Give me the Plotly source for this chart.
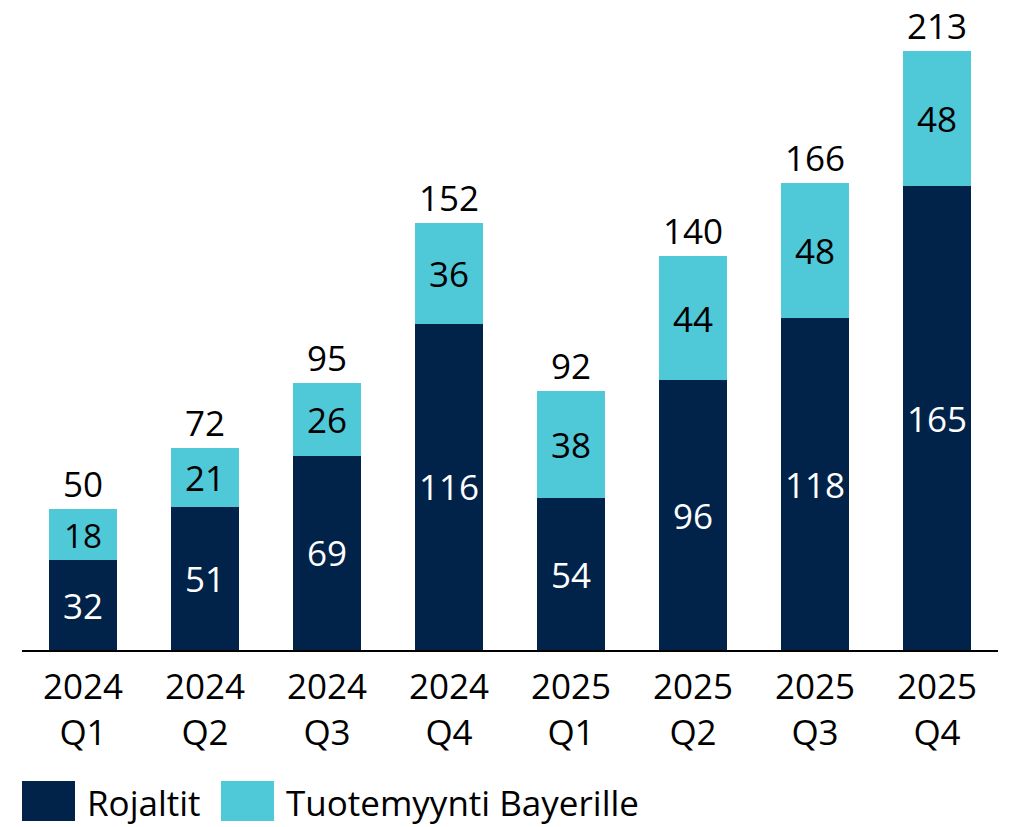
import plotly.graph_objects as go

categories = ["2024<br>Q1", "2024<br>Q2", "2024<br>Q3", "2024<br>Q4",
              "2025<br>Q1", "2025<br>Q2", "2025<br>Q3", "2025<br>Q4"]
rojaltit = [32, 51, 69, 116, 54, 96, 118, 165]
tuotemyynti = [18, 21, 26, 36, 38, 44, 48, 48]
totals = [50, 72, 95, 152, 92, 140, 166, 213]
series_names = ["Rojaltit", "Tuotemyynti Bayerille"]

DARK = "#012349"
LIGHT = "#4FC8D8"
FONT = "Open Sans"
FS = 35

fig = go.Figure()
fig.add_trace(go.Bar(
    x=categories, y=rojaltit, name=series_names[0], marker_color=DARK,
    marker_line_width=0, text=rojaltit, textposition="inside",
    insidetextanchor="middle", textangle=0,
    textfont=dict(color="white", size=FS, family=FONT),
))
fig.add_trace(go.Bar(
    x=categories, y=tuotemyynti, name=series_names[1], marker_color=LIGHT,
    marker_line_width=0, text=tuotemyynti, textposition="inside",
    insidetextanchor="middle", textangle=0,
    textfont=dict(color="black", size=FS, family=FONT),
))

for c, t in zip(categories, totals):
    fig.add_annotation(x=c, y=t, text=str(t), showarrow=False,
                       yanchor="bottom", yshift=1, borderpad=0,
                       font=dict(size=FS, color="black", family=FONT))

def px_x(px):
    return (px - 22) / 976

def px_y(py):
    return (650 - py) / 650

legend_spec = [(22, 75, DARK, series_names[0], 85), (221, 274, LIGHT, series_names[1], 284)]
for bx0, bx1, col, name, tx in legend_spec:
    fig.add_shape(type="rect", xref="paper", yref="paper",
                  x0=px_x(bx0), x1=px_x(bx1), y0=px_y(821), y1=px_y(781),
                  fillcolor=col, line_width=0)
    fig.add_annotation(xref="paper", yref="paper", x=px_x(tx), y=px_y(802),
                       text=name, showarrow=False, xanchor="left", yanchor="middle",
                       font=dict(size=FS, color="black", family=FONT))

fig.update_layout(
    barmode="stack",
    bargap=0.443,
    width=1010, height=827,
    margin=dict(l=22, r=12, t=0, b=177),
    plot_bgcolor="white", paper_bgcolor="white",
    showlegend=False,
    hovermode=False,
    font=dict(family=FONT, size=FS, color="black"),
    uniformtext=dict(mode=False),
)
fig.update_xaxes(showline=True, linecolor="black", linewidth=2, ticks="",
                 tickfont=dict(size=FS, family=FONT, color="black"),
                 ticklabelstandoff=5, showgrid=False)
fig.update_yaxes(visible=False, range=[0, 231.15], showgrid=False)

fig.write_html("out.html",
               config={"displayModeBar": False},
               post_script="document.body.style.margin='0px';document.body.style.overflow='hidden';")
